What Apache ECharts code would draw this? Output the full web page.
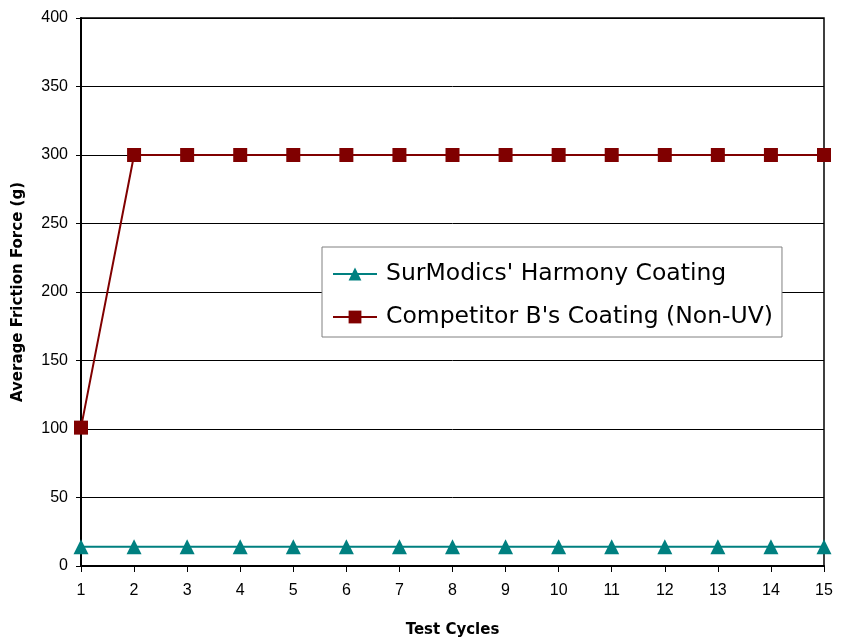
<!DOCTYPE html>
<html>
<head>
<meta charset="utf-8">
<script src="https://cdn.jsdelivr.net/npm/echarts@6/dist/echarts.min.js"></script>
<style>html,body{margin:0;padding:0;background:#fff;}#c{width:844px;height:643px;}</style>
</head>
<body>
<div id="c"></div>
<script>
var cycles = ['1','2','3','4','5','6','7','8','9','10','11','12','13','14','15'];
var harmony = [14,14,14,14,14,14,14,14,14,14,14,14,14,14,14];
var competitor = [101,300,300,300,300,300,300,300,300,300,300,300,300,300,300];
var seriesNames = ["SurModics' Harmony Coating", "Competitor B's Coating (Non-UV)"];

var chart = echarts.init(document.getElementById('c'));
chart.setOption({
  animation: false,
  backgroundColor: '#fff',
  grid: {left: 81, right: 20, top: 18, bottom: 77, containLabel: false, outerBoundsMode: 'none',
         show: true, borderColor: '#000', borderWidth: 1.5, backgroundColor: 'transparent'},
  legend: {
    orient: 'vertical',
    left: 322, top: 247,
    padding: [14, 9, 7, 10],
    itemGap: 17,
    itemWidth: 44, itemHeight: 16,
    backgroundColor: '#fff',
    borderColor: '#808080', borderWidth: 1,
    textStyle: {fontFamily: 'DejaVu Sans', fontSize: 23.5, lineHeight: 26, color: '#000', padding: [0,0,0,4]},
    data: [{name: seriesNames[0]}, {name: seriesNames[1]}]
  },
  xAxis: {
    type: 'category',
    data: cycles,
    boundaryGap: false,
    name: 'Test Cycles',
    nameLocation: 'middle',
    nameGap: 57,
    nameTextStyle: {fontFamily: 'DejaVu Sans', fontWeight: 'bold', fontSize: 15, color: '#000'},
    axisLine: {lineStyle: {color: '#000', width: 2}},
    axisTick: {show: true, alignWithLabel: true, length: 6, lineStyle: {color: '#000', width: 1}},
    axisLabel: {fontFamily: 'Liberation Sans', fontSize: 16, color: '#000', margin: 17},
    splitLine: {show: false}
  },
  yAxis: {
    type: 'value',
    min: 0, max: 400, interval: 50,
    name: 'Average Friction Force (g)',
    nameLocation: 'middle',
    nameGap: 55,
    nameTextStyle: {fontFamily: 'DejaVu Sans', fontWeight: 'bold', fontSize: 15, color: '#000'},
    axisLine: {show: true, lineStyle: {color: '#000', width: 2}},
    axisTick: {show: true, length: 5, lineStyle: {color: '#000', width: 1}},
    axisLabel: {fontFamily: 'Liberation Sans', fontSize: 16, color: '#000', margin: 13},
    splitLine: {show: true, lineStyle: {color: '#000', width: 1}}
  },
  series: [
    {
      name: seriesNames[0],
      type: 'line',
      data: harmony,
      symbol: 'triangle',
      symbolSize: 15,
      itemStyle: {color: '#008080'},
      lineStyle: {color: '#008080', width: 2},
      z: 3
    },
    {
      name: seriesNames[1],
      type: 'line',
      data: competitor,
      symbol: 'rect',
      symbolSize: 14,
      itemStyle: {color: '#800000'},
      lineStyle: {color: '#800000', width: 2},
      z: 3
    }
  ]
});
</script>
</body>
</html>
